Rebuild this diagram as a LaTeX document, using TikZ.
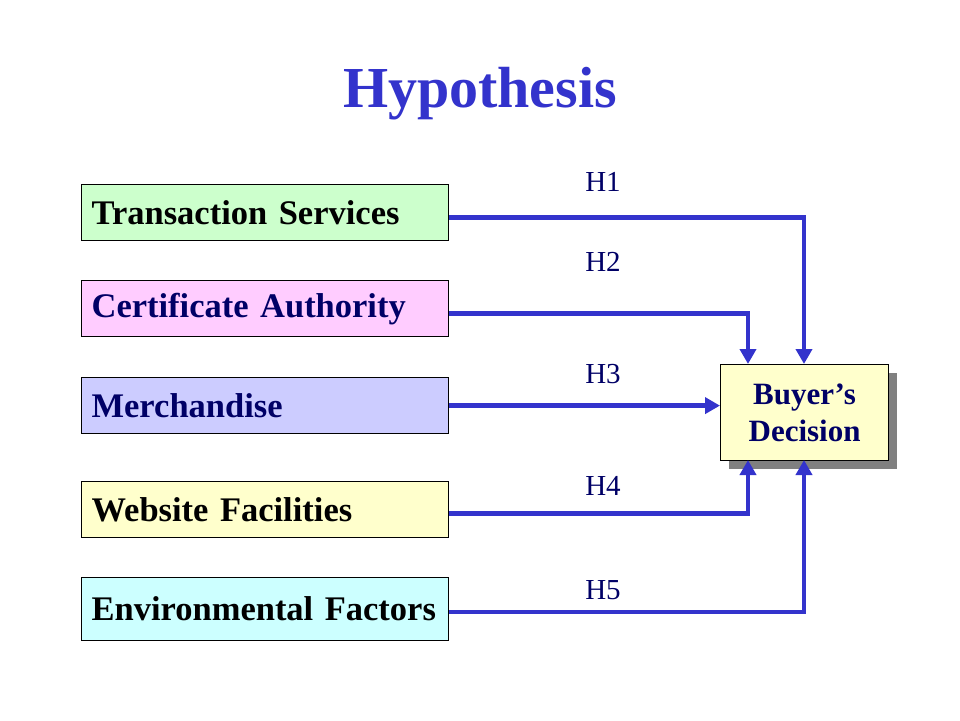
\documentclass[tikz,border=0pt]{standalone}
\usepackage{fontspec}
\setmainfont{Liberation Serif}
\usetikzlibrary{arrows.meta}
\definecolor{titleblue}{HTML}{3333CC}
\definecolor{arrowblue}{HTML}{3333CC}
\definecolor{navy}{HTML}{000066}
\definecolor{fgreen}{HTML}{CCFFCC}
\definecolor{fpink}{HTML}{FFCCFF}
\definecolor{flav}{HTML}{CCCCFF}
\definecolor{fyellow}{HTML}{FFFFCC}
\definecolor{fcyan}{HTML}{CCFFFF}
\definecolor{shadowgray}{HTML}{808080}
\tikzset{
  factor/.style={draw=black, line width=1.2pt, anchor=north west, text width=347pt,
    inner xsep=10pt, inner ysep=0pt, minimum height=56pt, align=left,
    font=\fontsize{34.5}{38}\selectfont\bfseries},
  hlabel/.style={text=navy, font=\fontsize{29}{32}\selectfont, inner sep=0pt},
  link/.style={draw=arrowblue, line width=4.5pt, -{Triangle[length=15pt,width=16pt]}},
}
\begin{document}
\begin{tikzpicture}[x=1pt,y=-1pt]
\useasboundingbox (0,0) rectangle (960,720);
\node[text=titleblue, font=\fontsize{58}{64}\selectfont\bfseries, inner sep=0pt] (title) at (480,94) {Hypothesis};

\node[factor, fill=fgreen, text=black] (b1) at (81,184) {Transaction Services};
\node[factor, fill=fpink, text=navy] (b2) at (81,280) {Certificate Authority};
\node[factor, fill=flav, text=navy] (b3) at (81,377) {Merchandise};
\node[factor, fill=fyellow, text=black] (b4) at (81,481) {Website Facilities};
\node[factor, fill=fcyan, text=black, minimum height=63pt] (b5) at (81,577) {Environmental Factors};

\fill[shadowgray] (729,373) rectangle (897,469);
\node[draw=black, line width=1.2pt, fill=fyellow, text=navy, anchor=north west,
  minimum width=168pt, minimum height=96pt, inner sep=0pt, align=center,
  font=\fontsize{31}{37}\selectfont\bfseries] (bd) at (720,364) {Buyer’s\\Decision};

\coordinate (t1) at (804,364);
\coordinate (t2) at (748,364);
\coordinate (t4) at (748,460);
\coordinate (t5) at (804,460);

\draw[link] ([yshift=-5pt]b1.east) -| (t1);
\draw[link] ([yshift=-5pt]b2.east) -| (t2);
\draw[link] ([yshift=0pt]b3.east) -- (bd.west |- b3.east);
\draw[link] ([yshift=-4pt]b4.east) -| (t4);
\draw[link] ([yshift=-3pt]b5.east) -| (t5);

\node[hlabel] (h1) at (603,182) {H1};
\node[hlabel] (h2) at (603,262) {H2};
\node[hlabel] (h3) at (603,374) {H3};
\node[hlabel] (h4) at (603,486) {H4};
\node[hlabel] (h5) at (603,590) {H5};
\end{tikzpicture}
\end{document}
